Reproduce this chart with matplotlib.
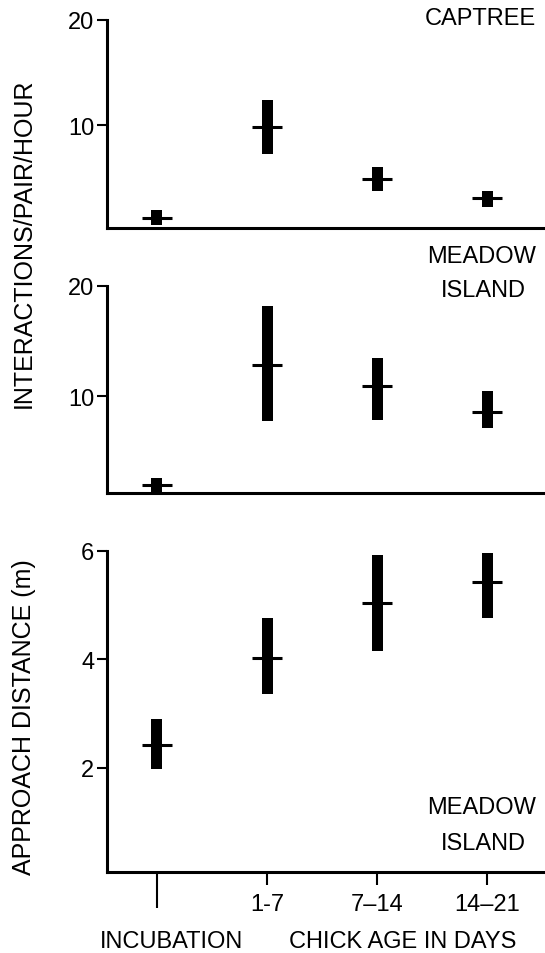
import matplotlib
matplotlib.use("Agg")
import matplotlib.pyplot as plt

plt.rcParams['font.family'] = ['Liberation Sans', 'DejaVu Sans']

# categories: incubation, chick age 1-7, 7-14, 14-21 days
x = [0, 1, 2, 3]
age_labels = ['1-7', '7–14', '14–21']

# interactions/pair/hour, Captree
captree_mean = [1.15, 9.8, 4.9, 3.05]
captree_low = [0.5, 7.2, 3.7, 2.2]
captree_high = [1.9, 12.4, 6.0, 3.7]

# interactions/pair/hour, Meadow Island
meadow_mean = [1.95, 12.8, 10.9, 8.6]
meadow_low = [1.2, 7.7, 7.8, 7.1]
meadow_high = [2.6, 18.2, 13.5, 10.5]

# approach distance (m), Meadow Island
dist_mean = [2.42, 4.02, 5.04, 5.43]
dist_low = [1.98, 3.37, 4.15, 4.77]
dist_high = [2.9, 4.77, 5.93, 5.96]

W, H = 545, 954
fig = plt.figure(figsize=(W / 100, H / 100), dpi=100)


def px_axes(top, bottom, left=107, right=545):
    return fig.add_axes([left / W, 1 - bottom / H, (right - left) / W, (bottom - top) / H])


def draw_panel(ax, low, high, mean, ylim, yticks):
    heights = [h - l for h, l in zip(high, low)]
    ax.bar(x, heights, bottom=low, width=0.1, color='black')
    ax.hlines(mean, [v - 0.14 for v in x], [v + 0.14 for v in x], color='black', lw=2.2)
    ax.set_xlim(-0.4545, 3.527)
    ax.set_ylim(*ylim)
    ax.set_yticks(yticks)
    ax.spines['top'].set_visible(False)
    ax.spines['right'].set_visible(False)
    ax.spines['left'].set_linewidth(2.2)
    ax.spines['bottom'].set_linewidth(2.2)
    ax.tick_params(axis='y', length=7, width=1.5, pad=2, labelsize=17)


ax1 = px_axes(21, 229)
draw_panel(ax1, captree_low, captree_high, captree_mean, (0.2, 20), [10, 20])
ax1.set_xticks([])

ax2 = px_axes(287, 494)
draw_panel(ax2, meadow_low, meadow_high, meadow_mean, (1.2, 20), [10, 20])
ax2.set_xticks([])

ax3 = px_axes(552, 873)
draw_panel(ax3, dist_low, dist_high, dist_mean, (0.08, 6), [2, 4, 6])
ax3.set_xticks(x[1:])
ax3.set_xticklabels(age_labels)
ax3.set_xticks([x[0]], minor=True)
ax3.tick_params(axis='x', which='major', length=9, width=1.5, pad=6, labelsize=17)
ax3.tick_params(axis='x', which='minor', length=26, width=1.5)


def ftext(px, py, s, **kw):
    fig.text(px / W, 1 - py / H, s, ha='center', va='center', **kw)


ftext(480, 19, 'CAPTREE', fontsize=17)
ftext(482, 257, 'MEADOW', fontsize=17)
ftext(483, 291, 'ISLAND', fontsize=17)
ftext(482, 808, 'MEADOW', fontsize=17)
ftext(483, 844, 'ISLAND', fontsize=17)

ftext(24, 243, 'INTERACTIONS/PAIR/HOUR', fontsize=18, rotation=90)
ftext(24, 717, 'APPROACH DISTANCE (m)', fontsize=18, rotation=90)

ftext(172, 942, 'INCUBATION', fontsize=17)
ftext(403, 942, 'CHICK AGE IN DAYS', fontsize=17)

fig.savefig('out.png', dpi=100)
